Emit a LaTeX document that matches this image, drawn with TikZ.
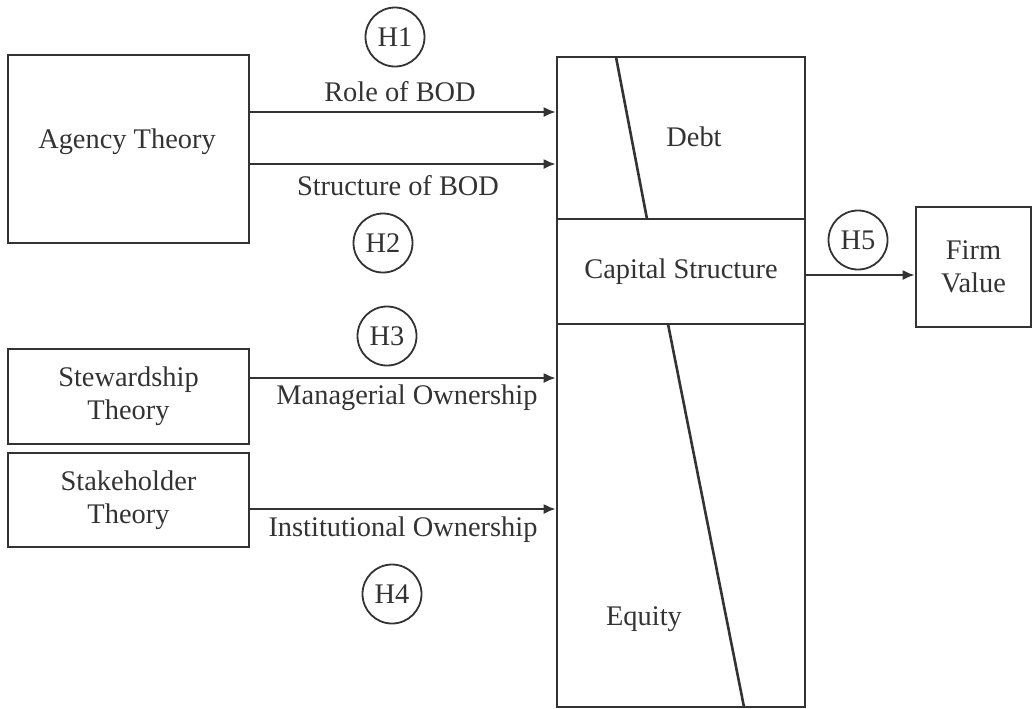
\documentclass[tikz,border=0pt]{standalone}
\usepackage{fontspec}
\setmainfont{Liberation Serif}
\usetikzlibrary{arrows.meta}
\definecolor{ink}{HTML}{333333}
\tikzset{
  box/.style={draw=ink,line width=1.3pt,text=ink,align=center,inner sep=0pt},
  hyp/.style={draw=ink,circle,line width=0.9pt,minimum size=29.5pt,inner sep=0pt,text=ink},
  lbl/.style={text=ink,inner sep=0pt},
  arr/.style={draw=ink,line width=1pt,-{Latex[length=6pt,width=5pt]}}
}
\begin{document}
\begin{tikzpicture}[x=0.5pt,y=-0.5pt,font=\fontsize{14.2}{16.5}\selectfont]
\useasboundingbox (0,0) rectangle (1032,708);
% theories
\node[box,minimum width=120.5pt,minimum height=94pt] (agency) at (128.5,149) {};
\node[lbl] (agencylbl) at (127,142) {Agency Theory};
\node[box,minimum width=120.5pt,minimum height=47.5pt] (steward) at (128.5,396.5) {Stewardship\\Theory};
\node[box,minimum width=120.5pt,minimum height=47pt] (stake) at (128.5,500) {Stakeholder\\Theory};
% capital structure block
\node[box,minimum width=124pt,minimum height=81pt] (debt) at (681,138) {};
\node[box,minimum width=124pt,minimum height=191.5pt] (equity) at (681,515.5) {};
\node[box,minimum width=124pt,minimum height=52.5pt,fill=white] (cap) at (681,271.5) {Capital Structure};
\draw[ink,line width=1.3pt] (616,57) -- (647,219);
\draw[ink,line width=1.3pt] (668,324) -- (744,707);
\node[lbl] (debtlbl) at (694,137) {Debt};
\node[lbl] (equitylbl) at (644,619) {Equity};
\node[box,minimum width=57.5pt,minimum height=60pt] (firm) at (973.5,267) {Firm\\Value};
% arrows
\draw[arr] (agency.east |- 0,112) -- (debt.west |- 0,112);
\draw[arr] (agency.east |- 0,164) -- (debt.west |- 0,164);
\draw[arr] (steward.east |- 0,378) -- (equity.west |- 0,378);
\draw[arr] (stake.east |- 0,509) -- (equity.west |- 0,509);
\draw[arr] (cap.east |- 0,275) -- (firm.west |- 0,275);
% labels
\node[lbl] (role) at (400,92) {Role of BOD};
\node[lbl] (struct) at (398,186) {Structure of BOD};
\node[lbl] (manag) at (407,398) {Managerial Ownership};
\node[lbl] (inst) at (403,530) {Institutional Ownership};
\node[hyp] (h1) at (395,37) {H1};
\node[hyp] (h2) at (383,243) {H2};
\node[hyp] (h3) at (387,336) {H3};
\node[hyp] (h4) at (392,594) {H4};
\node[hyp] (h5) at (858,240) {H5};
\end{tikzpicture}
\end{document}
